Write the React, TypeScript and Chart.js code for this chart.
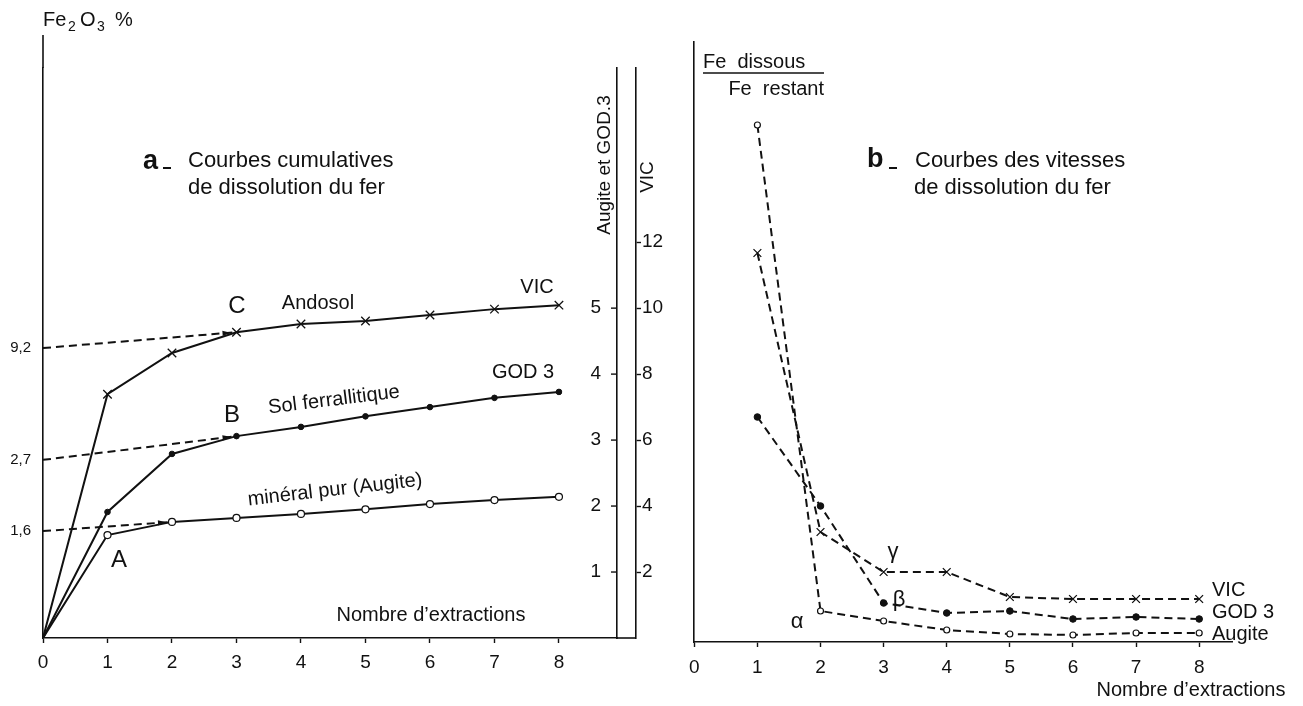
import React, { useEffect, useRef } from "react";
import { Chart, registerables } from "chart.js";

Chart.register(...registerables);

// ---------- data ----------
const extractions = [0, 1, 2, 3, 4, 5, 6, 7, 8];
const xTickValues = [0, 1, 2, 3, 4, 5, 6, 7, 8];

// Panel a : cumulative dissolution (VIC read on its own axis)
const cumVIC = [0, 7.39, 8.64, 9.27, 9.52, 9.61, 9.79, 9.97, 10.09];
const cumGOD3 = [0, 1.91, 2.79, 3.06, 3.2, 3.36, 3.5, 3.64, 3.73];
const cumAugite = [0, 1.56, 1.76, 1.82, 1.88, 1.95, 2.03, 2.09, 2.14];

const extrapVICx = [0, 3];
const extrapVICy = [8.79, 9.27];
const extrapGODx = [0, 3];
const extrapGODy = [2.7, 3.06];
const extrapAugX = [0, 2];
const extrapAugY = [1.62, 1.76];

const interceptLabels = ["9,2", "2,7", "1,6"];
const augGodTicks = [1, 2, 3, 4, 5];
const vicTicks = [2, 4, 6, 8, 10, 12];
const VIC_PER_UNIT = 2; // VIC axis reads twice the Augite/GOD.3 axis

// Panel b : dissolution rates (Fe dissous / Fe restant)
const rateX = [1, 2, 3, 4, 5, 6, 7, 8];
const rateAugite = [10.34, 0.62, 0.42, 0.24, 0.16, 0.14, 0.18, 0.18];
const rateVIC = [7.78, 2.2, 1.4, 1.4, 0.9, 0.86, 0.86, 0.86];
const rateGOD3 = [4.5, 2.72, 0.78, 0.58, 0.62, 0.46, 0.5, 0.46];

// ---------- helpers ----------
const FONT = "'Liberation Sans', Arial, Helvetica, sans-serif";
const INK = "#111111";

const pts = (xs: number[], ys: number[]) => xs.map((x, i) => ({ x, y: ys[i] }));

function txt(
  ctx: CanvasRenderingContext2D,
  s: string,
  x: number,
  y: number,
  size: number,
  align: CanvasTextAlign = "center",
  weight = "normal",
  rot = 0
) {
  ctx.save();
  ctx.font = `${weight} ${size}px ${FONT}`;
  ctx.fillStyle = INK;
  ctx.textAlign = align;
  ctx.textBaseline = "middle";
  ctx.translate(x, y);
  if (rot) ctx.rotate(rot);
  ctx.fillText(s, 0, 0);
  ctx.restore();
}

function seg(ctx: CanvasRenderingContext2D, x1: number, y1: number, x2: number, y2: number, w = 1.5) {
  ctx.save();
  ctx.strokeStyle = INK;
  ctx.lineWidth = w;
  ctx.beginPath();
  ctx.moveTo(x1, y1);
  ctx.lineTo(x2, y2);
  ctx.stroke();
  ctx.restore();
}

function arrowHead(ctx: CanvasRenderingContext2D, from: { x: number; y: number }, to: { x: number; y: number }) {
  const dx = to.x - from.x;
  const dy = to.y - from.y;
  const len = Math.hypot(dx, dy) || 1;
  const ux = dx / len;
  const uy = dy / len;
  const tipX = to.x - ux * 6;
  const tipY = to.y - uy * 6;
  const bx = tipX - ux * 8;
  const by = tipY - uy * 8;
  ctx.save();
  ctx.fillStyle = INK;
  ctx.beginPath();
  ctx.moveTo(tipX, tipY);
  ctx.lineTo(bx - uy * 2.6, by + ux * 2.6);
  ctx.lineTo(bx + uy * 2.6, by - ux * 2.6);
  ctx.closePath();
  ctx.fill();
  ctx.restore();
}

const tickLabelFont = { family: FONT, size: 19 };

// ---------- panel a ----------
function leftConfig(): any {
  const Y_MAX = 8.64;
  const decor = {
    id: "leftDecor",
    afterDraw(chart: any) {
      const ctx: CanvasRenderingContext2D = chart.ctx;
      const { y, yl } = chart.scales;
      const area = chart.chartArea;

      // axis extensions
      seg(ctx, yl.right, 35, yl.right, area.top, 1.6);
      seg(ctx, area.right, area.bottom, area.right + 19, area.bottom, 1.6);

      // Augite / GOD.3 axis ticks (inside, labels on the left)
      y.ticks.forEach((t: any) => {
        const py = y.getPixelForValue(t.value);
        seg(ctx, y.left - 6, py, y.left, py, 1.4);
        txt(ctx, String(t.value), y.left - 16, py, 19, "right");
      });

      // arrow heads on the extrapolation lines
      [3, 4, 5].forEach((i) => {
        const d = chart.getDatasetMeta(i).data;
        arrowHead(ctx, d[d.length - 2], d[d.length - 1]);
      });

      // Fe2O3 %
      txt(ctx, "Fe", 43, 20, 20, "left");
      txt(ctx, "2", 68, 27, 14, "left");
      txt(ctx, "O", 80, 20, 20, "left");
      txt(ctx, "3", 97, 27, 14, "left");
      txt(ctx, "%", 115, 20, 20, "left");

      // title
      txt(ctx, "a", 143, 162, 27, "left", "bold");
      seg(ctx, 163, 168, 171, 168, 2);
      txt(ctx, "Courbes cumulatives", 188, 161, 22, "left");
      txt(ctx, "de dissolution du fer", 188, 188, 22, "left");

      // curve labels
      txt(ctx, "C", 237, 306, 24);
      txt(ctx, "Andosol", 318, 303, 20);
      txt(ctx, "VIC", 537, 287, 20);
      txt(ctx, "B", 232, 415, 24);
      txt(ctx, "Sol ferrallitique", 334, 400, 20, "center", "normal", (-7 * Math.PI) / 180);
      txt(ctx, "GOD 3", 523, 372, 20);
      txt(ctx, "minéral pur (Augite)", 335, 490, 20, "center", "normal", (-6.5 * Math.PI) / 180);
      txt(ctx, "A", 119, 560, 24);
      txt(ctx, "Nombre d\u2019extractions", 431, 615, 20);

      // secondary axis titles
      txt(ctx, "Augite et GOD.3", 605, 165, 19, "center", "normal", -Math.PI / 2);
      txt(ctx, "VIC", 648, 177, 19, "center", "normal", -Math.PI / 2);
    },
  };

  const solid = { borderColor: INK, borderWidth: 2, pointBorderColor: INK, tension: 0, fill: false };
  const dashed = { borderColor: INK, borderWidth: 2, borderDash: [8, 5], pointRadius: 0, tension: 0, fill: false, order: 2 };

  return {
    type: "line",
    data: {
      datasets: [
        {
          ...solid,
          label: "VIC",
          data: pts(extractions, cumVIC),
          yAxisID: "y2",
          pointStyle: "crossRot",
          pointRadius: extractions.map((v) => (v === 0 ? 0 : 6)),
          pointBorderWidth: 1.3,
          pointBackgroundColor: INK,
          order: 1,
        },
        {
          ...solid,
          label: "GOD 3",
          data: pts(extractions, cumGOD3),
          yAxisID: "y",
          pointStyle: "circle",
          pointRadius: extractions.map((v) => (v === 0 ? 0 : 2.8)),
          pointBorderWidth: 1,
          pointBackgroundColor: INK,
          order: 1,
        },
        {
          ...solid,
          label: "Augite",
          data: pts(extractions, cumAugite),
          yAxisID: "y",
          pointStyle: "circle",
          pointRadius: extractions.map((v) => (v === 0 ? 0 : 3.5)),
          pointBorderWidth: 1.2,
          pointBackgroundColor: "#ffffff",
          order: 1,
        },
        { ...dashed, label: "VIC ext", data: pts(extrapVICx, extrapVICy), yAxisID: "y2" },
        { ...dashed, label: "GOD ext", data: pts(extrapGODx, extrapGODy), yAxisID: "y" },
        { ...dashed, label: "Aug ext", data: pts(extrapAugX, extrapAugY), yAxisID: "y" },
      ],
    },
    options: {
      animation: false,
      responsive: false,
      devicePixelRatio: 1,
      events: [],
      layout: { padding: { top: 68, left: 0, right: 0, bottom: 0 } },
      plugins: { legend: { display: false }, tooltip: { enabled: false }, title: { display: false } },
      scales: {
        x: {
          type: "linear",
          min: 0,
          max: 8.9,
          afterBuildTicks: (s: any) => {
            s.ticks = xTickValues.map((v) => ({ value: v }));
          },
          afterFit: (s: any) => {
            s.height = 68;
          },
          grid: { drawOnChartArea: false, drawTicks: true, tickLength: 5, tickColor: INK, tickWidth: 1.4 },
          border: { color: INK, width: 1.6 },
          ticks: { color: INK, font: tickLabelFont, padding: 8, maxRotation: 0, autoSkip: false },
        },
        yl: {
          type: "linear",
          position: "left",
          min: 0,
          max: Y_MAX,
          afterBuildTicks: (s: any) => {
            s.ticks = [extrapVICy[0] / VIC_PER_UNIT, extrapGODy[0], extrapAugY[0]].map((v) => ({ value: v }));
          },
          afterFit: (s: any) => {
            s.width = 43;
          },
          grid: { drawOnChartArea: false, drawTicks: false },
          border: { color: INK, width: 1.6 },
          ticks: {
            color: INK,
            font: { family: FONT, size: 15 },
            padding: 12,
            autoSkip: false,
            callback: (_v: any, i: number) => interceptLabels[i],
          },
        },
        y: {
          type: "linear",
          position: "right",
          weight: 0,
          min: 0,
          max: Y_MAX,
          afterBuildTicks: (s: any) => {
            s.ticks = augGodTicks.map((v) => ({ value: v }));
          },
          afterFit: (s: any) => {
            s.width = 19;
          },
          grid: { drawOnChartArea: false, drawTicks: false },
          border: { color: INK, width: 1.6 },
          ticks: { display: false },
        },
        y2: {
          type: "linear",
          position: "right",
          weight: 1,
          min: 0,
          max: Y_MAX * VIC_PER_UNIT,
          afterBuildTicks: (s: any) => {
            s.ticks = vicTicks.map((v) => ({ value: v }));
          },
          afterFit: (s: any) => {
            s.width = 44;
          },
          grid: { drawOnChartArea: false, drawTicks: true, tickLength: 5, tickColor: INK, tickWidth: 1.4 },
          border: { color: INK, width: 1.6 },
          ticks: { color: INK, font: tickLabelFont, padding: 1, autoSkip: false },
        },
      },
    },
    plugins: [decor],
  };
}

// ---------- panel b ----------
function rightConfig(): any {
  const OFF = 680;
  const decor = {
    id: "rightDecor",
    afterDraw(chart: any) {
      const ctx: CanvasRenderingContext2D = chart.ctx;
      const X = (px: number) => px - OFF;

      // y label (fraction)
      txt(ctx, "Fe  dissous", X(703), 62, 20, "left");
      seg(ctx, X(703), 73, X(824), 73, 1.4);
      txt(ctx, "Fe  restant", X(824), 89, 20, "right");

      // title
      txt(ctx, "b", X(867), 160, 27, "left", "bold");
      seg(ctx, X(889), 168, X(897), 168, 2);
      txt(ctx, "Courbes des vitesses", X(915), 161, 22, "left");
      txt(ctx, "de dissolution du fer", X(914), 188, 22, "left");

      // greek letters
      txt(ctx, "\u03b1", X(797), 622, 22);
      txt(ctx, "\u03b2", X(899), 600, 22);
      txt(ctx, "\u03b3", X(893), 552, 22);

      // series labels
      txt(ctx, "VIC", X(1212), 590, 20, "left");
      txt(ctx, "GOD 3", X(1212), 612, 20, "left");
      txt(ctx, "Augite", X(1212), 634, 20, "left");

      txt(ctx, "Nombre d\u2019extractions", X(1191), 690, 20);
    },
  };

  const dashed = { borderColor: INK, borderWidth: 2, borderDash: [8, 5], pointBorderColor: INK, tension: 0, fill: false };

  return {
    type: "line",
    data: {
      datasets: [
        {
          ...dashed,
          label: "VIC",
          data: pts(rateX, rateVIC),
          pointStyle: "crossRot",
          pointRadius: 5.5,
          pointBorderWidth: 1.3,
          pointBackgroundColor: INK,
        },
        {
          ...dashed,
          label: "GOD 3",
          data: pts(rateX, rateGOD3),
          pointStyle: "circle",
          pointRadius: 3.3,
          pointBorderWidth: 1,
          pointBackgroundColor: INK,
        },
        {
          ...dashed,
          label: "Augite",
          data: pts(rateX, rateAugite),
          pointStyle: "circle",
          pointRadius: 3,
          pointBorderWidth: 1.2,
          pointBackgroundColor: "#ffffff",
        },
      ],
    },
    options: {
      animation: false,
      responsive: false,
      devicePixelRatio: 1,
      events: [],
      layout: { padding: { top: 42, left: 0, right: 71, bottom: 0 } },
      plugins: { legend: { display: false }, tooltip: { enabled: false }, title: { display: false } },
      scales: {
        x: {
          type: "linear",
          min: 0,
          max: 8.52,
          afterBuildTicks: (s: any) => {
            s.ticks = xTickValues.map((v) => ({ value: v }));
          },
          afterFit: (s: any) => {
            s.height = 64;
          },
          grid: { drawOnChartArea: false, drawTicks: true, tickLength: 5, tickColor: INK, tickWidth: 1.4 },
          border: { color: INK, width: 1.6 },
          ticks: { color: INK, font: tickLabelFont, padding: 9, maxRotation: 0, autoSkip: false },
        },
        y: {
          type: "linear",
          position: "left",
          min: 0,
          max: 12,
          afterFit: (s: any) => {
            s.width = 7;
          },
          grid: { drawOnChartArea: false, drawTicks: false },
          border: { color: INK, width: 1.6 },
          ticks: { display: false },
        },
      },
    },
    plugins: [decor],
  };
}

export default function App() {
  const leftRef = useRef<HTMLCanvasElement>(null);
  const rightRef = useRef<HTMLCanvasElement>(null);

  useEffect(() => {
    const c1 = new Chart(leftRef.current as HTMLCanvasElement, leftConfig());
    const c2 = new Chart(rightRef.current as HTMLCanvasElement, rightConfig());
    return () => {
      c1.destroy();
      c2.destroy();
    };
  }, []);

  return (
    <div style={{ position: "absolute", left: 0, top: 0, width: 1303, height: 706, background: "#ffffff", overflow: "hidden" }}>
      <canvas
        ref={leftRef}
        width={680}
        height={706}
        style={{ position: "absolute", left: 0, top: 0, width: 680, height: 706 }}
      />
      <canvas
        ref={rightRef}
        width={623}
        height={706}
        style={{ position: "absolute", left: 680, top: 0, width: 623, height: 706 }}
      />
    </div>
  );
}
